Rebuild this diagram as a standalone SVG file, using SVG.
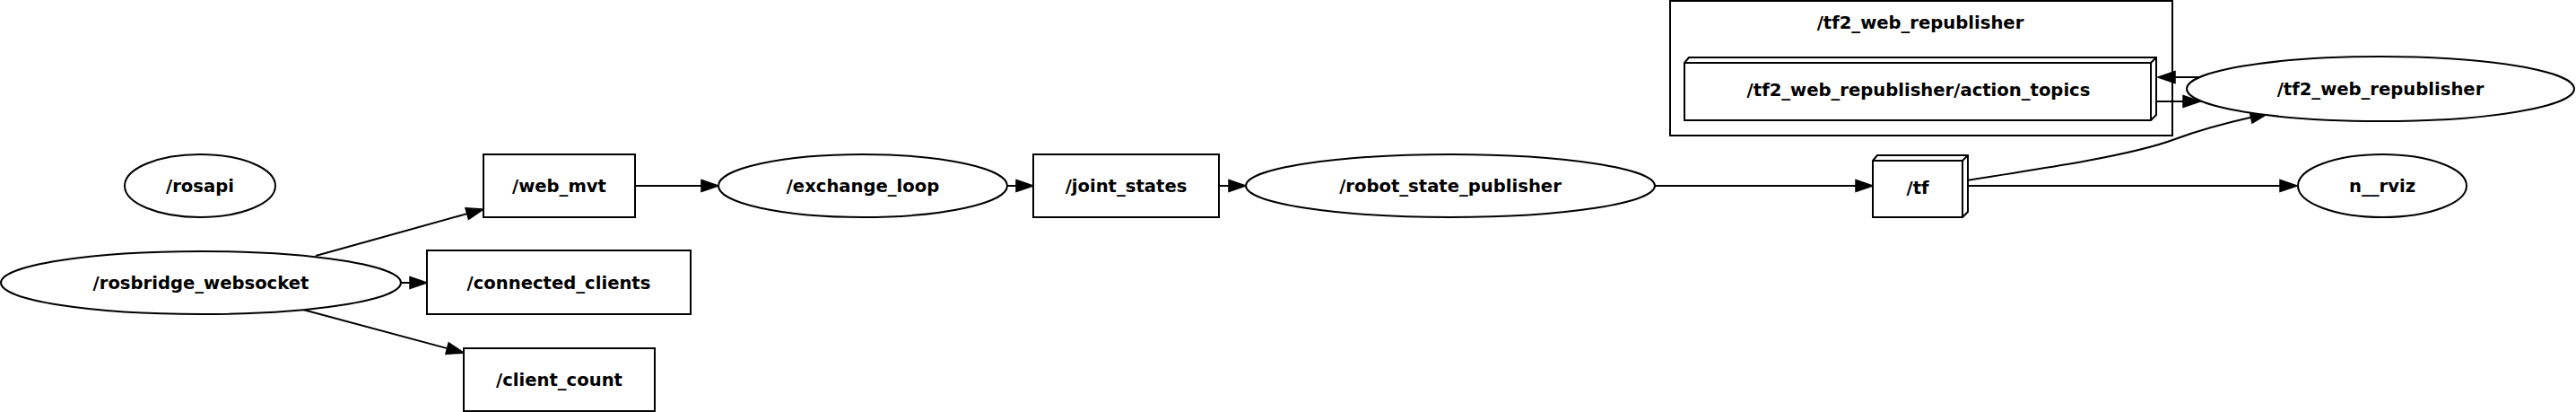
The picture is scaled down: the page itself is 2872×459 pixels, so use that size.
<svg xmlns="http://www.w3.org/2000/svg" width="2872" height="459" viewBox="0 0 2872 459">
<defs>
<style>
.n{fill:#fff;stroke:#000;stroke-width:2}
.cl{fill:none;stroke:#000;stroke-width:2}
.t{font-family:"DejaVu Sans","Liberation Sans",sans-serif;font-weight:bold;font-size:19.6px;text-anchor:middle;fill:#000}
.e{fill:none;stroke:#000;stroke-width:2;marker-end:url(#ah)}
</style>
<marker id="ah" markerUnits="userSpaceOnUse" orient="auto" refX="0" refY="0" markerWidth="22" markerHeight="16" overflow="visible">
<path d="M0,-6.5 L19,0 L0,6.5 Z" fill="#000" stroke="#000" stroke-width="1.5"/>
</marker>
</defs>
<rect width="2872" height="459" fill="#fff"/>
<g id="cluster_tf2_web_republisher">
<rect class="cl" x="1862" y="1" width="560" height="150"/>
<text class="t" x="2141" y="32">/tf2_web_republisher</text>
</g>
<g id="connectors">
<path class="e" d="M352,285 L520.7,238.1"/>
<path class="e" d="M447,315 L457,315"/>
<path class="e" d="M338,345 L498.6,388.1"/>
<path class="e" d="M707,207 L782,207"/>
<path class="e" d="M1123,207 L1133,207"/>
<path class="e" d="M1359,207 L1370,207"/>
<path class="e" d="M1845,207 L2069,207"/>
<path class="e" d="M2193,207 L2542,207"/>
<path class="e" d="M2453,86 L2425,86"/>
<path class="e" d="M2404,113 L2434,113"/>
<path class="e" d="M2193,201 C2290,186 2380,172 2425,155 C2452,145 2482,137 2509.6,130.8"/>
</g>
<g id="rosapi">
<ellipse class="n" cx="223" cy="207" rx="84" ry="35"/>
<text class="t" x="223" y="214">/rosapi</text>
</g>
<g id="rosbridge_websocket">
<ellipse class="n" cx="224" cy="315" rx="223" ry="35"/>
<text class="t" x="224" y="322">/rosbridge_websocket</text>
</g>
<g id="web_mvt">
<rect class="n" x="539" y="172" width="169" height="70"/>
<text class="t" x="623.5" y="214">/web_mvt</text>
</g>
<g id="connected_clients">
<rect class="n" x="476" y="279" width="294" height="71"/>
<text class="t" x="623" y="322">/connected_clients</text>
</g>
<g id="client_count">
<rect class="n" x="517" y="388" width="213" height="70"/>
<text class="t" x="623.5" y="430">/client_count</text>
</g>
<g id="exchange_loop">
<ellipse class="n" cx="962" cy="207" rx="161" ry="35"/>
<text class="t" x="962" y="214">/exchange_loop</text>
</g>
<g id="joint_states">
<rect class="n" x="1152" y="172" width="207" height="70"/>
<text class="t" x="1255.5" y="214">/joint_states</text>
</g>
<g id="robot_state_publisher">
<ellipse class="n" cx="1617" cy="207" rx="228" ry="35"/>
<text class="t" x="1617" y="214">/robot_state_publisher</text>
</g>
<g id="tf">
<path class="n" d="M2088,179 L2093,173 L2194,173 L2194,236 L2188,242 L2088,242 Z"/>
<path class="cl" d="M2088,179 L2188,179 L2188,242 M2188,179 L2194,173"/>
<text class="t" x="2138" y="216">/tf</text>
</g>
<g id="tf2_action_topics">
<path class="n" d="M1878,70 L1883,64 L2404,64 L2404,128 L2398,134 L1878,134 Z"/>
<path class="cl" d="M1878,70 L2398,70 L2398,134 M2398,70 L2404,64"/>
<text class="t" x="2139" y="107">/tf2_web_republisher/action_topics</text>
</g>
<g id="tf2_web_republisher">
<ellipse class="n" cx="2654" cy="99" rx="216" ry="36"/>
<text class="t" x="2654" y="106">/tf2_web_republisher</text>
</g>
<g id="n__rviz">
<ellipse class="n" cx="2656" cy="207" rx="94" ry="35"/>
<text class="t" x="2656" y="214">n__rviz</text>
</g>
</svg>
